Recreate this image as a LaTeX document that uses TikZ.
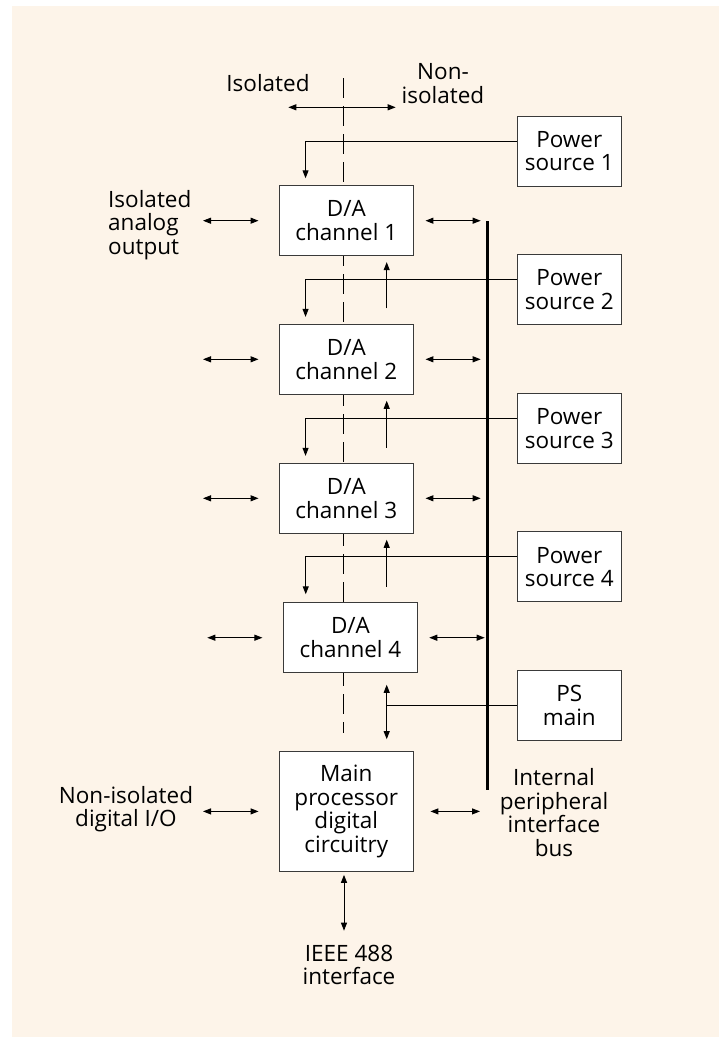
\documentclass[tikz,border=0pt]{standalone}
\usepackage{fontspec}
\setmainfont{Open Sans}
\usetikzlibrary{arrows.meta,calc}
\definecolor{bg}{HTML}{FDF4E9}
\definecolor{edge}{HTML}{3A3A3A}
\newcommand{\lblfont}{\fontsize{22.5}{23.5}\selectfont}
\begin{document}
\begin{tikzpicture}[x=1pt,y=-1pt,
  box/.style={draw=edge,fill=white,line width=0.9pt,minimum width=134pt,minimum height=70pt,inner sep=0pt,align=center,font=\lblfont},
  psbox/.style={box,minimum width=104.7pt},
  txt/.style={inner sep=0pt,align=center,font=\lblfont},
  ln/.style={line width=1pt,draw=black},
  arr/.style={ln,-{Triangle[length=8pt,width=6pt]}},
  darr/.style={ln,{Triangle[length=8pt,width=6pt]}-{Triangle[length=8pt,width=6pt]}},
  bus/.style={line width=3pt,draw=black}]
\useasboundingbox (0,0) rectangle (719,1037);
\fill[bg] (12,6) rectangle (719,1037);

% isolation boundary
\coordinate (dtop) at (343.3,78);
\coordinate (dbot) at (343.3,733);
\draw[ln,line width=0.8pt,dash pattern=on 20pt off 8pt] (dtop) -- (dbot);

% bus
\coordinate (bustop) at (487.7,221.3);
\coordinate (busbot) at (487.7,790);
\draw[bus] (bustop) -- (busbot);

% boxes
\node[box] (ch1) at (346.3,220.7) {D/A\\channel 1};
\node[box] (ch2) at (346.3,359.3) {D/A\\channel 2};
\node[box] (ch3) at (346.3,498.3) {D/A\\channel 3};
\node[box] (ch4) at (350.5,637.7) {D/A\\channel 4};
\node[box,minimum height=120.7pt] (mp) at (346.3,811.4) {Main\\processor\\digital\\circuitry};

\node[psbox] (p1) at (569.3,151) {Power\\source 1};
\node[psbox] (p2) at (569.3,289.7) {Power\\source 2};
\node[psbox] (p3) at (569.3,428.5) {Power\\source 3};
\node[psbox] (p4) at (569.3,566.9) {Power\\source 4};
\node[psbox] (psm) at (569.3,705.7) {PS\\main};

% labels
\node[txt] (iso) at (268,83) {Isolated};
\node[txt] (noniso) at (443,83.4) {Non-\\isolated};
\node[txt,align=left,anchor=west] (iao) at (108,225) {Isolated\\analog\\output};
\node[txt] (nid) at (126,809) {Non-isolated\\digital I/O};
\node[txt] (ipib) at (554,812.4) {Internal\\peripheral\\interface\\bus};
\node[txt] (ieee) at (349,965) {IEEE 488\\interface};

% top arrow
\coordinate (tl) at (288.3,107.3);
\coordinate (tr) at (395.7,107.3);
\draw[darr] (tl) -- (tr);

% left arrows
\coordinate (l1) at (203,220.7);
\coordinate (l2) at (203,359.3);
\coordinate (l3) at (203,498.3);
\coordinate (l4) at (207.3,637.7);
\coordinate (l5) at (203,811.4);
\draw[darr] (l1) -- ([xshift=-20.3pt]ch1.west);
\draw[darr] (l2) -- ([xshift=-20.3pt]ch2.west);
\draw[darr] (l3) -- ([xshift=-20.3pt]ch3.west);
\draw[darr] (l4) -- ([xshift=-20.6pt]ch4.west);
\draw[darr] (l5) -- ([xshift=-20.3pt]mp.west);

% right arrows to bus
\draw[darr] ([xshift=11.7pt]ch1.east) -- ($(ch1.east -| bustop)+(-7,0)$);
\draw[darr] ([xshift=11.7pt]ch2.east) -- ($(ch2.east -| bustop)+(-7,0)$);
\draw[darr] ([xshift=11.7pt]ch3.east) -- ($(ch3.east -| bustop)+(-7,0)$);
\draw[darr] ([xshift=11.3pt]ch4.east) -- ($(ch4.east -| bustop)+(-3,0)$);
\draw[darr] ([xshift=16.7pt]mp.east) -- ($(mp.east -| bustop)+(-7.7,0)$);

% power feeds
\draw[arr] ([yshift=10pt]p1.west) -| ([xshift=26.7pt,yshift=7pt]ch1.north west);
\draw[arr] ([yshift=10pt]p2.west) -| ([xshift=26.7pt,yshift=7pt]ch2.north west);
\draw[arr] ([yshift=10pt]p3.west) -| ([xshift=26.7pt,yshift=7pt]ch3.north west);
\draw[arr] ([yshift=10pt]p4.west) -| ([xshift=22.7pt,yshift=8pt]ch4.north west);

% up arrows
\coordinate (u1) at (386.7,308.3);
\coordinate (u2) at (386.7,447.7);
\coordinate (u3) at (386.7,586.7);
\draw[arr] (u1) -- ([xshift=40.4pt,yshift=-6pt]ch1.south);
\draw[arr] (u2) -- ([xshift=40.4pt,yshift=-6pt]ch2.south);
\draw[arr] (u3) -- ([xshift=40.4pt,yshift=-6pt]ch3.south);

% PS main
\coordinate (jn) at (386.7,705.7);
\draw[ln] (psm.west) -- (jn);
\draw[arr] (jn) -- ([yshift=-11.6pt]ch4.south -| jn);
\draw[arr] (jn) -- ([yshift=11.4pt]mp.north -| jn);

% IEEE 488
\coordinate (ib) at (344,930.7);
\draw[darr] ([xshift=-2.3pt,yshift=-2.6pt]mp.south) -- (ib);
\end{tikzpicture}
\end{document}
